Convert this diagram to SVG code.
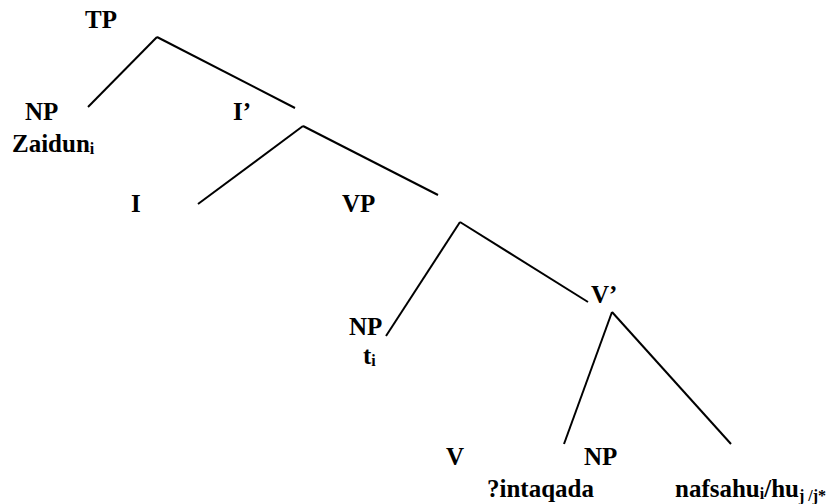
<svg xmlns="http://www.w3.org/2000/svg" width="836" height="504" viewBox="0 0 836 504">
<style>
text{font-family:'Liberation Serif','Times New Roman','DejaVu Serif',serif;font-weight:700;font-size:25px;fill:#000}
.sub{font-size:16px}
line{stroke:#000;stroke-width:2;fill:none}
</style>
<rect width="836" height="504" fill="#fff"/>
<g id="connectors">
<line x1="157" y1="37" x2="88" y2="107"/>
<line x1="157" y1="37" x2="295" y2="108"/>
<line x1="303" y1="126" x2="198" y2="204"/>
<line x1="303" y1="126" x2="438" y2="195"/>
<line x1="460" y1="222" x2="386" y2="336"/>
<line x1="460" y1="222" x2="588" y2="302"/>
<line x1="612" y1="312" x2="564" y2="444"/>
<line x1="612" y1="312" x2="731" y2="444"/>
</g>
<g id="TP"><text x="85" y="28">TP</text></g>
<g id="NP1"><text x="25" y="120">NP</text><text x="12" y="152">Zaidun<tspan class="sub" dy="2">i</tspan></text></g>
<g id="I1"><text x="233" y="120">I’</text></g>
<g id="I"><text x="131" y="212">I</text></g>
<g id="VP"><text x="342" y="212">VP</text></g>
<g id="NP2"><text x="349" y="335">NP</text><text x="363" y="364">t<tspan class="sub" dy="2">i</tspan></text></g>
<g id="V1"><text x="591" y="303">V’</text></g>
<g id="V"><text x="446" y="465">V</text><text x="487" y="497">?intaqada</text></g>
<g id="NP3"><text x="584" y="465">NP</text><text x="675" y="497">nafsahu<tspan class="sub" dy="2">i</tspan><tspan dy="-2">/hu</tspan><tspan class="sub" dy="4">j /j*</tspan></text></g>
</svg>
